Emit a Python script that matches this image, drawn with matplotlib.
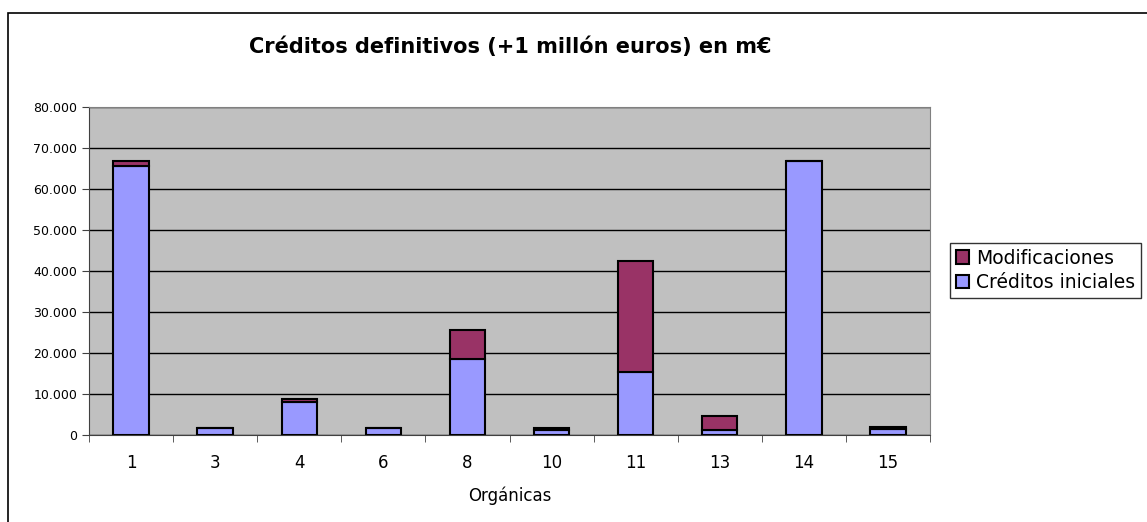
import matplotlib.pyplot as plt
import matplotlib.patches as mpatches
from matplotlib.ticker import FuncFormatter, FixedLocator

plt.rcParams['font.family'] = ['DejaVu Sans']

organicas       = ["1", "3", "4", "6", "8", "10", "11", "13", "14", "15"]
creditos_ini    = [65500, 1600, 8000, 1600, 18600, 1100, 15400, 1100, 66800, 1500]
modificaciones  = [1300, 0, 900, 0, 7000, 500, 27000, 3600, 0, 500]

fig = plt.figure(figsize=(11.47, 5.22), dpi=100)
ax  = fig.add_axes([89/1147, 1-435/522, (930-89)/1147, (435-107)/522])

# marco exterior del grafico
fig.patches.append(mpatches.Rectangle((8/1147, -0.1), 1.2, 1-13/522+0.1,
                   transform=fig.transFigure, fill=False, ec="black", lw=1.2))

x = list(range(len(organicas)))
ax.set_facecolor("#C0C0C0")
ax.bar(x, creditos_ini, width=0.42, color="#9999FF", edgecolor="black", lw=1.5,
       label="Créditos iniciales", zorder=3)
ax.bar(x, modificaciones, width=0.42, bottom=creditos_ini, color="#993366",
       edgecolor="black", lw=1.5, label="Modificaciones", zorder=3)

ax.set_xlim(-0.5, len(organicas) - 0.5)
ax.set_ylim(0, 80000)
ax.set_yticks(range(0, 80001, 10000))
ax.yaxis.set_major_formatter(FuncFormatter(lambda v, p: f"{int(v):,}".replace(",", ".")))
ax.grid(axis="y", color="black", lw=1, zorder=1)

ax.set_xticks(x)
ax.set_xticklabels(organicas, fontsize=12)
ax.tick_params(axis="x", which="major", length=0, pad=14)
ax.xaxis.set_minor_locator(FixedLocator([i - 0.5 for i in range(len(organicas) + 1)]))
ax.tick_params(axis="x", which="minor", length=5, color="#404040")
ax.tick_params(axis="y", labelsize=9, length=5, color="#404040")
ax.set_xlabel("Orgánicas", fontsize=12, labelpad=10)

for s in ["left", "bottom"]:
    ax.spines[s].set_color("#404040")
for s in ["top", "right"]:
    ax.spines[s].set_color("#808080")

fig.text(510/1147, 1-47/522, "Créditos definitivos (+1 millón euros) en m€",
         ha="center", va="center", fontsize=15, fontweight="bold")

h, l = ax.get_legend_handles_labels()
leg = fig.legend(h[::-1], l[::-1], loc="upper left", bbox_to_anchor=(950/1147, 1-243/522),
                 fontsize=13.5, frameon=True, fancybox=False, edgecolor="black",
                 handlelength=0.7, handleheight=0.7, handletextpad=0.4,
                 borderpad=0.3, labelspacing=0.3, borderaxespad=0)
leg.get_frame().set_linewidth(1)

fig.savefig("out.png", dpi=100)
